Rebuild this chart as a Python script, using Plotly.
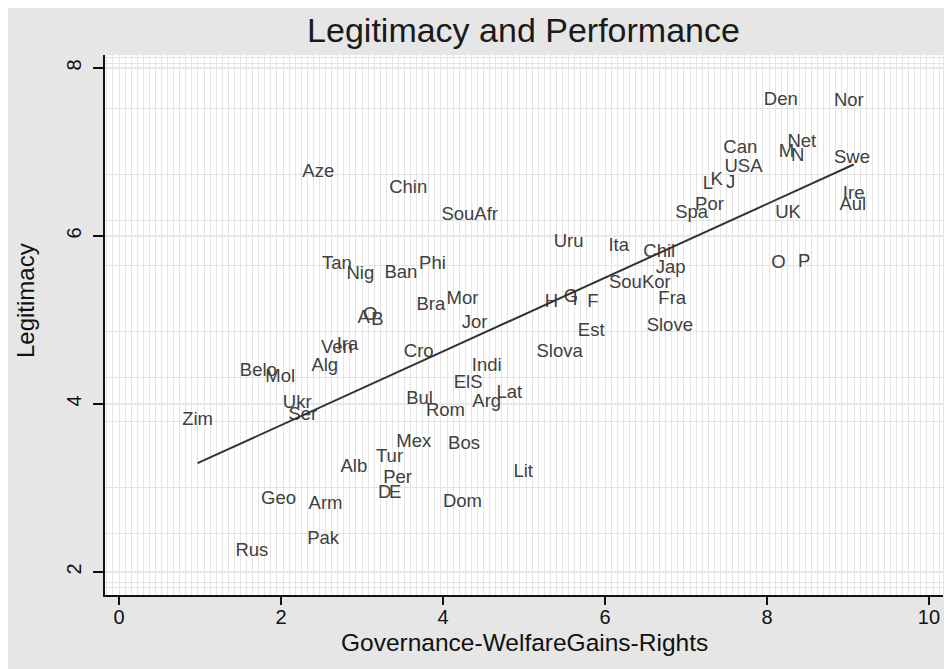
import numpy as np
import plotly.graph_objects as go

countries = ["Aze", "Chin", "SouAfr", "Uru", "Ita", "Chil", "Jap", "SouKor", "Fra", "Slove",
             "Est", "Slova", "H", "G", "I", "F", "Mor", "Jor", "Indi", "ElS",
             "Lat", "Arg", "Bul", "Rom", "Cro", "Phi", "Bra", "Ban", "Nig", "Tan",
             "A", "O", "B", "Ven", "Ira", "Alg", "Belo", "Mol", "Ukr", "Ser",
             "Zim", "Mex", "Bos", "Tur", "Alb", "Lit", "Per", "D", "E", "Geo",
             "Arm", "Dom", "Pak", "Rus", "Den", "Nor", "Net", "M", "N", "Can",
             "USA", "L", "K", "J", "Por", "Spa", "UK", "Swe", "Ire", "Aul",
             "O", "P"]
governance = [2.46, 3.57, 4.33, 5.55, 6.17, 6.67, 6.81, 6.43, 6.83, 6.80,
              5.83, 5.44, 5.34, 5.58, 5.63, 5.85, 4.24, 4.39, 4.54, 4.31,
              4.82, 4.54, 3.71, 4.03, 3.70, 3.87, 3.85, 3.48, 2.98, 2.69,
              3.02, 3.10, 3.19, 2.69, 2.82, 2.54, 1.72, 1.99, 2.20, 2.27,
              0.97, 3.64, 4.26, 3.34, 2.90, 4.99, 3.44, 3.28, 3.41, 1.97,
              2.55, 4.24, 2.52, 1.64, 8.17, 9.01, 8.43, 8.24, 8.38, 7.67,
              7.71, 7.27, 7.38, 7.55, 7.29, 7.07, 8.26, 9.05, 9.07, 9.06,
              8.14, 8.46]
legitimacy = [6.76, 6.57, 6.24, 5.93, 5.88, 5.80, 5.61, 5.44, 5.24, 4.92,
              4.87, 4.61, 5.21, 5.27, 5.23, 5.21, 5.24, 4.96, 4.45, 4.25,
              4.13, 4.02, 4.06, 3.91, 4.61, 5.66, 5.17, 5.56, 5.54, 5.66,
              5.02, 5.05, 4.99, 4.66, 4.70, 4.45, 4.39, 4.32, 4.01, 3.87,
              3.81, 3.54, 3.52, 3.37, 3.25, 3.19, 3.11, 2.94, 2.93, 2.87,
              2.80, 2.83, 2.39, 2.24, 7.61, 7.60, 7.12, 6.99, 6.95, 7.04,
              6.82, 6.62, 6.66, 6.63, 6.37, 6.27, 6.27, 6.93, 6.49, 6.37,
              5.67, 5.69]

x_ticks = [0, 2, 4, 6, 8, 10]
y_ticks = [2, 4, 6, 8]
y_minor_grid = [1.81, 1.87, 2.46, 3.0, 3.79, 4.32, 4.86, 5.65, 6.19, 6.73, 7.52, 8.05, 8.12]

xa = np.array(governance)
ya = np.array(legitimacy)
slope, intercept = np.polyfit(xa, ya, 1)
fx = np.array([xa.min(), xa.max()])
fy = slope * fx + intercept

FONT = "Liberation Sans, Arial, Helvetica, sans-serif"

fig = go.Figure()
fig.add_trace(go.Scatter(
    x=governance, y=legitimacy, mode="text", text=countries,
    textposition="middle center",
    textfont=dict(family=FONT, size=18.5, color="#404040"),
    hoverinfo="text", showlegend=False))
fig.add_trace(go.Scatter(
    x=fx, y=fy, mode="lines", line=dict(color="#333333", width=2),
    showlegend=False, hoverinfo="skip"))

fig.update_layout(
    width=952, height=669,
    margin=dict(l=97, r=17, t=47, b=82, autoexpand=False),
    paper_bgcolor="#e6e6e6", plot_bgcolor="white",
    font=dict(family=FONT, color="#111111"),
    title=dict(text="Legitimacy and Performance", x=515.5 / 952, xanchor="center",
               y=1 - 22 / 669, yanchor="middle",
               font=dict(size=34, color="#1a1a1a", family=FONT)),
    xaxis=dict(range=[-0.173, 10.173], tickvals=x_ticks, ticks="outside", ticklen=8,
               tickcolor="#111111", tickwidth=1.5, showline=True, linecolor="#111111",
               linewidth=1.5, showgrid=False, zeroline=False, automargin=False,
               ticklabelstandoff=-5,
               tickfont=dict(size=20, color="#111111"),
               minor=dict(dtick=0.075, tick0=0, showgrid=True, gridcolor="#e4e4e4",
                          gridwidth=1, ticks="")),
    yaxis=dict(range=[1.726, 8.155], tickvals=y_ticks, ticks="outside", ticklen=10,
               tickcolor="#111111", tickwidth=1.5, showline=True, linecolor="#111111",
               linewidth=1.5, showgrid=True, gridcolor="#e8e8e8", gridwidth=2,
               zeroline=False, tickangle=-90, automargin=False, ticklabelstandoff=4,
               tickfont=dict(size=20, color="#111111"),
               minor=dict(tickvals=y_minor_grid, showgrid=True, gridcolor="#e4e4e4",
                          gridwidth=1, ticks="")),
    annotations=[
        dict(text="Governance-WelfareGains-Rights", xref="paper", yref="paper",
             x=0.5, y=-(642 - 595) / 540, xanchor="center", yanchor="middle",
             showarrow=False, font=dict(size=24.5, color="#111111", family=FONT)),
        dict(text="Legitimacy", xref="paper", yref="paper",
             x=-(105 - 25) / 838, y=(595 - 301) / 540, xanchor="center", yanchor="middle",
             textangle=-90, showarrow=False, font=dict(size=24, color="#111111", family=FONT)),
    ],
)

fig.write_html("out.html")
